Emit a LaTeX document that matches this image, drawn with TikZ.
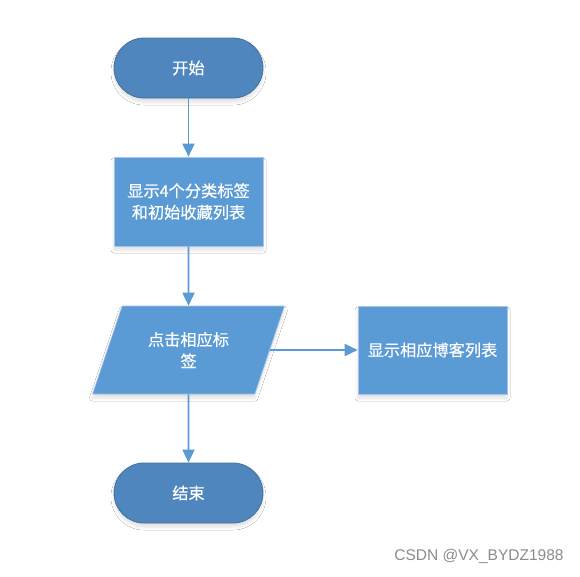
\documentclass[tikz,border=0pt]{standalone}
\usepackage{fontspec}
\newfontfamily\cjk[FakeBold=0.4]{Noto Sans CJK SC}
\setmainfont{Liberation Sans}
\usetikzlibrary{shapes.geometric,arrows.meta,shadows.blur}
\definecolor{termfill}{HTML}{4F86BE}
\definecolor{termdraw}{HTML}{41719C}
\definecolor{boxfill}{HTML}{5B9BD5}
\definecolor{boxdraw}{HTML}{A9C4E8}
\definecolor{linecol}{HTML}{5B9BD5}
\definecolor{wm}{HTML}{8C8C8C}
\tikzset{
  softshadow/.style={blur shadow={shadow blur steps=6, shadow xshift=0pt, shadow yshift=-4pt, shadow opacity=12, shadow blur radius=3pt}},
  txt/.style={text=white, font=\cjk\fontsize{16.2}{21.5}\selectfont, align=center, inner sep=0pt},
  terminal/.style={txt, rectangle, rounded corners=30pt, minimum width=149pt, minimum height=60pt, fill=termfill, draw=termdraw, line width=0.8pt, softshadow},
  procbox/.style={txt, rectangle, minimum width=149pt, minimum height=89pt, fill=boxfill, draw=boxdraw, line width=0.6pt, softshadow},
  iobox/.style={txt, trapezium, trapezium left angle=63.4, trapezium right angle=116.6, trapezium stretches=true, minimum width=192pt, minimum height=88pt, fill=boxfill, draw=boxdraw, line width=0.6pt, softshadow},
  flow/.style={draw=linecol, line width=1.8pt, -{Triangle[length=13pt,width=12pt]}}
}
\begin{document}
\begin{tikzpicture}[x=1pt,y=-1pt]
\useasboundingbox[fill=white] (0,0) rectangle (580,576);
\node[terminal] (start) at (188.5,68) {开始};
\node[procbox] (show) at (188.5,201.5) {显示4个分类标签\\和初始收藏列表};
\node[iobox] (click) at (188.5,350) {点击相应标\\签};
\node[procbox, minimum height=88pt] (blog) at (432.5,350) {显示相应博客列表};
\node[terminal] (stop) at (188.5,493) {结束};
\draw[flow] (start.south) -- (show.north);
\draw[flow] (show.south) -- (click.north);
\draw[flow] (click.south) -- (stop.north);
\draw[flow] (click.east) -- (blog.west);
\node[text=wm, font=\fontsize{15.5}{18}\selectfont, inner sep=0pt] (mark) at (479,556) {CSDN @VX\_BYDZ1988};
\end{tikzpicture}
\end{document}
